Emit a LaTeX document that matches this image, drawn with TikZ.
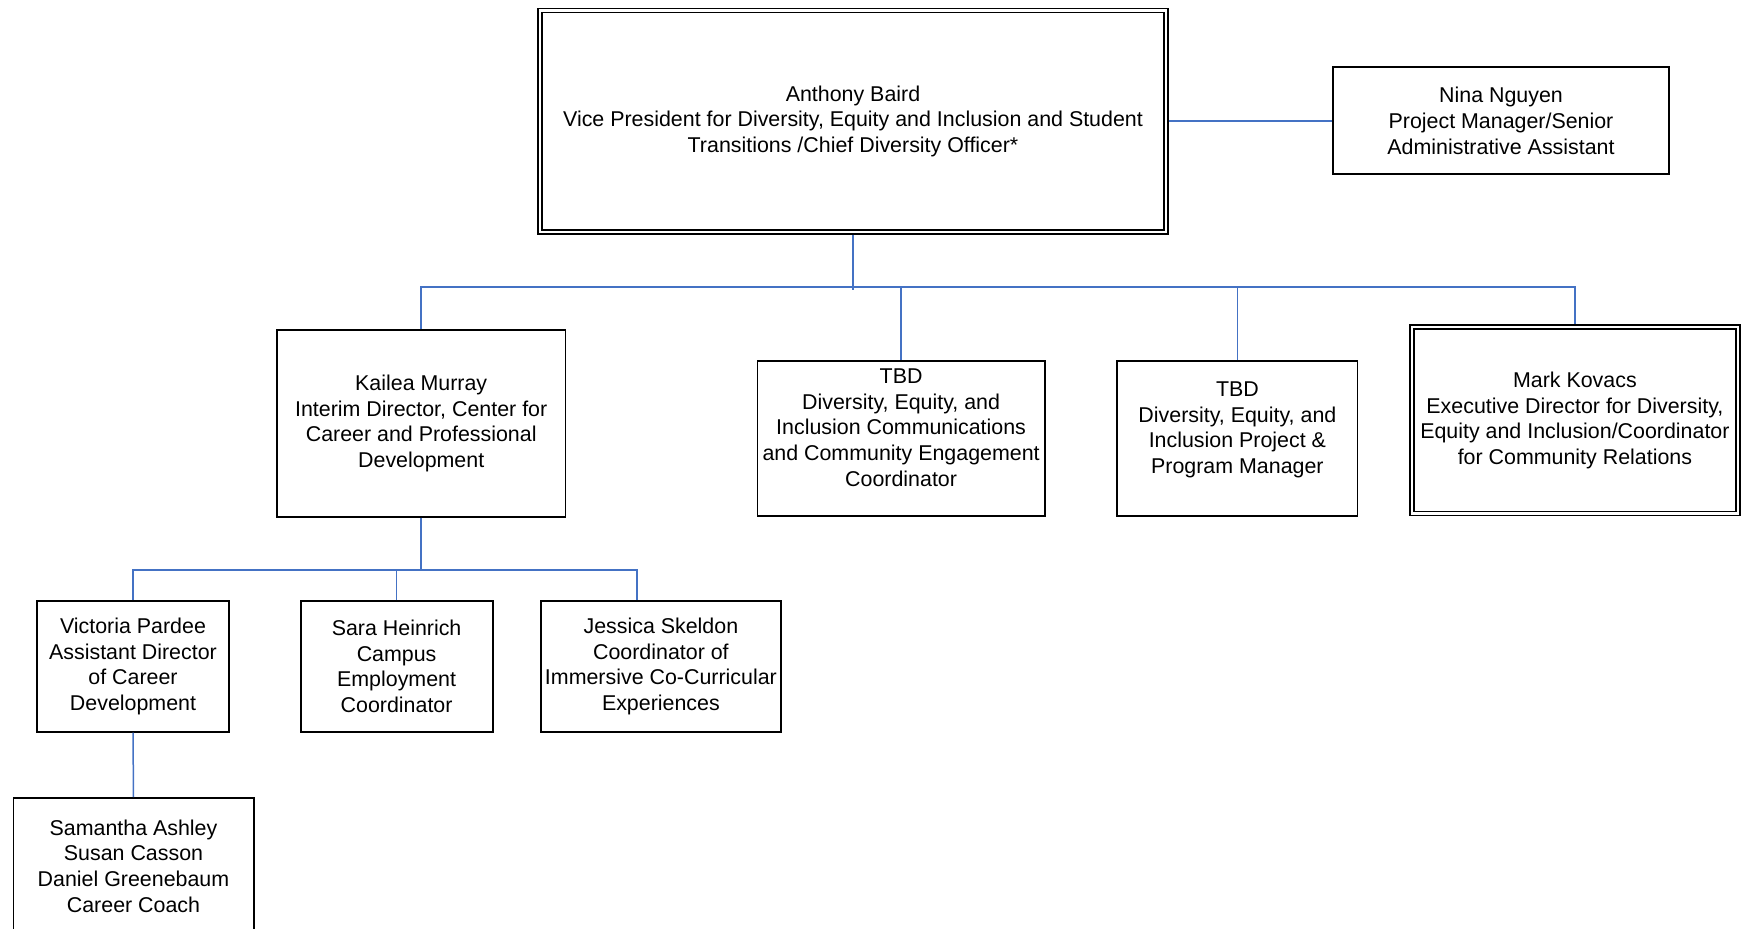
\documentclass[tikz,border=0pt]{standalone}
\usepackage{fontspec}
\setmainfont{Liberation Sans}
\usepackage{tikz}
\usetikzlibrary{positioning,calc}
\usepackage{xcolor}
\definecolor{linkblue}{RGB}{68,114,196}
\tikzset{
  unit/.style  = {draw=black,line width=0.9pt,fill=white,align=center,
                  inner sep=0pt,font=\fontsize{10.7}{12.85}\selectfont},
  dunit/.style = {unit,double,double distance=1.2pt,line width=0.8pt,
                  outer sep=1.4pt},
  link/.style  = {draw=linkblue,line width=0.75pt},
}

\begin{document}
\begin{tikzpicture}[x=0.5pt,y=-0.5pt]
  \useasboundingbox (0,0) rectangle (1752,929);
  \clip (0,0) rectangle (1752,929);
  \node[dunit,minimum width=312.8pt,minimum height=110.6pt] (vp) at (853,121.2)
        {Anthony Baird\\Vice President for Diversity, Equity and Inclusion and Student\\Transitions /Chief Diversity Officer*};
  \node[unit,minimum width=168pt,minimum height=53.7pt] (nina) at (1501,120.7)
        {Nina Nguyen\\Project Manager/Senior\\Administrative Assistant};
  \node[unit,minimum width=144.2pt,minimum height=93.3pt] (kailea) at (421.2,423.5)
        {Kailea Murray\\Interim Director, Center for\\Career and Professional\\Development};
  \node[unit,minimum width=143.6pt,minimum height=77.7pt] (comm) at (901.1,438.6)
        {TBD\\Diversity, Equity, and\\Inclusion Communications\\and Community Engagement\\Coordinator\\[-5.6pt]\strut};
  \node[unit,minimum width=120.1pt,minimum height=77.5pt] (proj) at (1237.4,438.6)
        {TBD\\Diversity, Equity, and\\Inclusion Project \&\\Program Manager\\[-5.6pt]\strut};
  \node[dunit,minimum width=163pt,minimum height=93.2pt] (mark) at (1574.9,420.5)
        {Mark Kovacs\\Executive Director for Diversity,\\Equity and Inclusion/Coordinator\\for Community Relations};
  \node[unit,minimum width=96pt,minimum height=65.4pt] (victoria) at (133,666.4)
        {Victoria Pardee\\Assistant Director\\of Career\\Development};
  \node[unit,minimum width=96pt,minimum height=65.4pt] (sara) at (396.6,666.4)
        {Sara Heinrich\\Campus\\Employment\\Coordinator};
  \node[unit,minimum width=120.1pt,minimum height=65.4pt] (jessica) at (660.9,666.4)
        {Jessica Skeldon\\Coordinator of\\Immersive Co-Curricular\\Experiences};
  \node[unit,minimum width=120.1pt,minimum height=68pt] (coach) at (133.5,866)
        {Samantha Ashley\\Susan Casson\\Daniel Greenebaum\\Career Coach};

  \coordinate (bus) at (853,287);
  \coordinate (subbus) at (421.2,569.8);
  \draw[link] (vp.east) -- (vp.east -| nina.west);
  \draw[link] (vp.south) -- ++(0,55);
  \draw[link] (kailea.north) |- (bus) -| (mark.north);
  \draw[link] (comm.north) -- (comm.north |- bus);
  \draw[link] (proj.north) -- (proj.north |- bus);
  \draw[link] (kailea.south) -- (subbus);
  \draw[link] (victoria.north) |- (subbus) -| ([xshift=-12pt]jessica.north);
  \draw[link] (sara.north) -- (sara.north |- subbus);
  \draw[link] (victoria.south) -- (coach.north);
\end{tikzpicture}
\end{document}
